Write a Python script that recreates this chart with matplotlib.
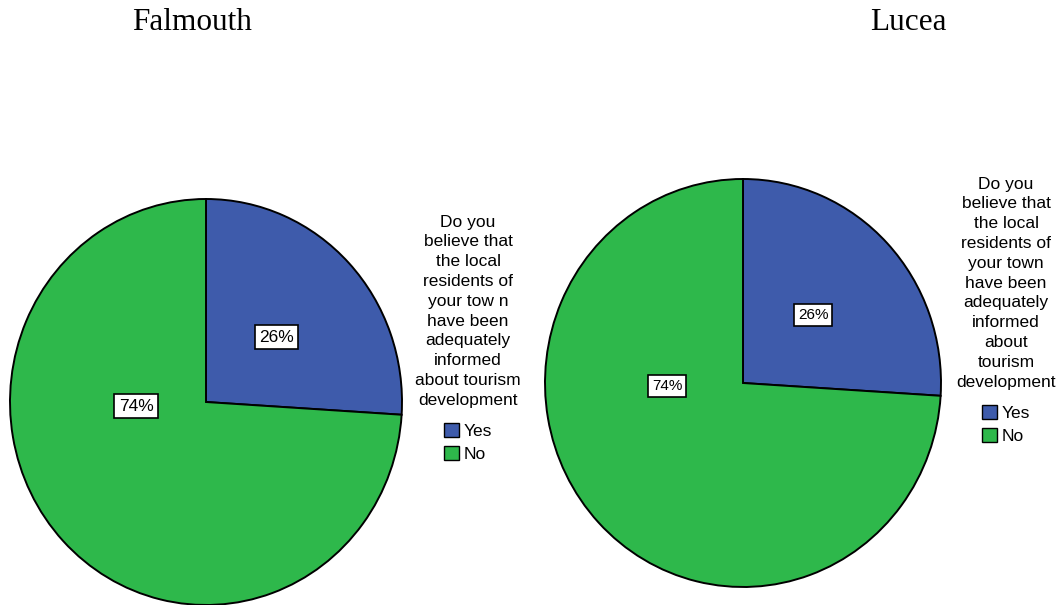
import matplotlib
matplotlib.use('Agg')
import matplotlib.pyplot as plt
from matplotlib.patches import Patch

# ── Survey data ────────────────────────────────────────────
towns = ['Falmouth', 'Lucea']
answers = ['Yes', 'No']
falmouth_pct = [26, 74]
lucea_pct = [26, 74]
question_falmouth = ("Do you\nbelieve that\nthe local\nresidents of\nyour tow n\n"
                     "have been\nadequately\ninformed\nabout tourism\ndevelopment")
question_lucea = ("Do you\nbelieve that\nthe local\nresidents of\nyour town\n"
                  "have been\nadequately\ninformed\nabout\ntourism\ndevelopment")

COLORS = ['#3E5BAB', '#2EB84B']
W, H = 1061, 605


def px_box(left, top, right, bottom):
    """pixel box (image coords) -> figure fraction rect"""
    return [left / W, 1 - bottom / H, (right - left) / W, (bottom - top) / H]


def draw_pie(fig, rect, values, label_pos, fs):
    ax = fig.add_axes(rect)
    wedges, _ = ax.pie(values, colors=COLORS, startangle=90, counterclock=False,
                       radius=1.0, wedgeprops=dict(edgecolor='black', linewidth=1.4))
    for w in wedges:
        w.set_clip_on(False)
    ax.set_aspect('auto')
    ax.set_xlim(-1, 1)
    ax.set_ylim(-1, 1)
    ax.axis('off')
    for v, (x, y) in zip(values, label_pos):
        ax.text(x, y, f"{v}%", ha='center', va='center', fontsize=fs,
                family='Liberation Sans',
                bbox=dict(boxstyle='square,pad=0.25', fc='white', ec='black', lw=1.2))
    return ax


def add_legend(fig, title, anchor, fs):
    handles = [Patch(facecolor=c, edgecolor='black', linewidth=1.0) for c in COLORS]
    leg = fig.legend(handles, answers, title=title, loc='upper center',
                     bbox_to_anchor=anchor, frameon=False, fontsize=fs,
                     title_fontsize=fs, handlelength=0.85, handleheight=0.85,
                     handletextpad=0.3, labelspacing=0.4, borderpad=0.0)
    ttl = leg.get_title()
    ttl.set_multialignment('center')
    ttl.set_family('Liberation Sans')
    ttl.set_linespacing(1.4)
    for t in leg.get_texts():
        t.set_family('Liberation Sans')
    leg._legend_box.sep = 11
    return leg


fig = plt.figure(figsize=(W / 100, H / 100), dpi=100, facecolor='white')

draw_pie(fig, px_box(10, 199, 402, 605), falmouth_pct,
         [(0.36, 0.32), (-0.357, -0.02)], 12.5)
draw_pie(fig, px_box(545, 179, 941, 587), lucea_pct,
         [(0.354, 0.333), (-0.384, -0.015)], 11)

fig.text(192 / W, 1 - 23 / H, towns[0], ha='center', va='center',
         fontsize=22.5, family='Liberation Serif')
fig.text(908 / W, 1 - 23 / H, towns[1], ha='center', va='center',
         fontsize=22.5, family='Liberation Serif')

add_legend(fig, question_falmouth, (468 / W, 1 - 206 / H), 12.5)
add_legend(fig, question_lucea, (1006 / W, 1 - 168 / H), 12.5)

fig.savefig('out.png', dpi=100, facecolor=fig.get_facecolor())
